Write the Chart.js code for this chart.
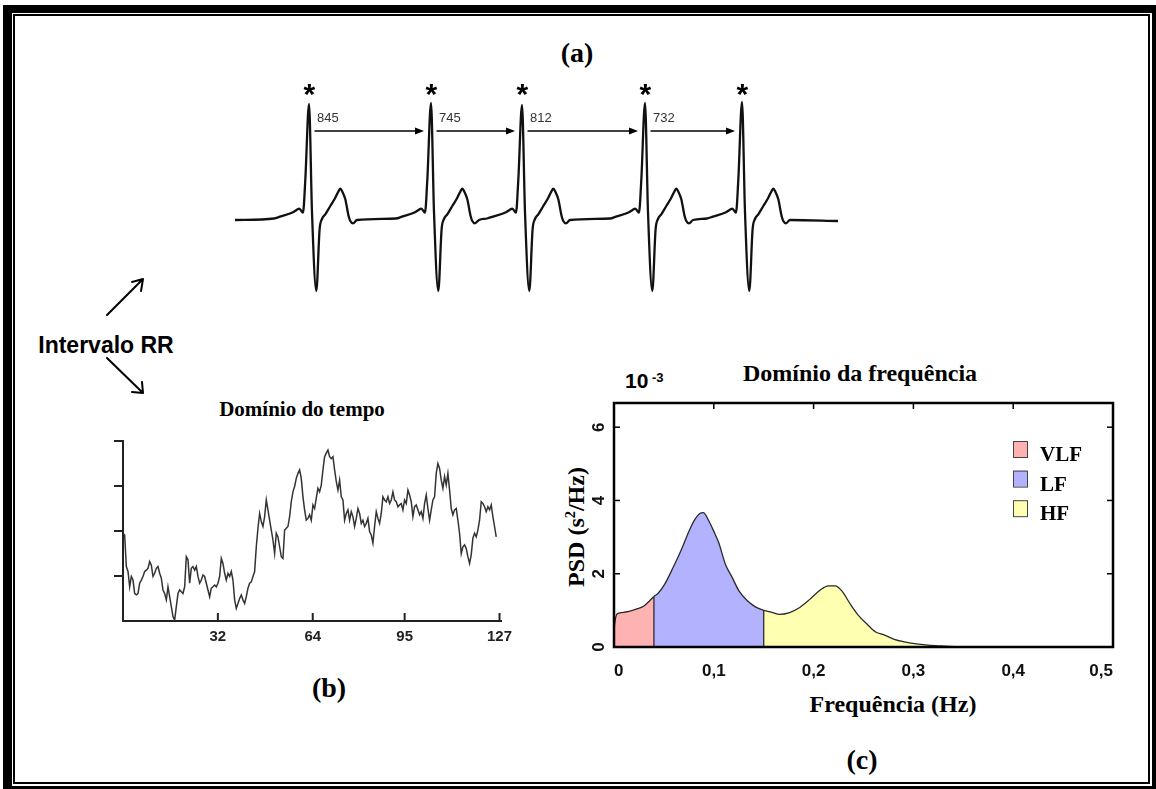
<!DOCTYPE html>
<html lang="pt">
<head>
<meta charset="UTF-8">
<title>Intervalo RR</title>
<script src="https://cdn.jsdelivr.net/npm/chart.js"></script>
<style>
  body{margin:0;width:1156px;height:789px;position:relative;overflow:hidden;background:#fff;}
  #outer{position:absolute;left:3px;top:5px;width:1153px;height:784px;box-sizing:border-box;border-style:solid;border-color:#000;border-width:8px 4px 3px 9px;}
  #inner{position:absolute;left:13px;top:14px;width:1137px;height:770px;box-sizing:border-box;border:2px solid #000;}
  .t{position:absolute;white-space:nowrap;transform:translate(-50%,-50%);color:#000;line-height:1;}
  .abs{position:absolute;white-space:nowrap;color:#000;line-height:1;}
  .serif{font-family:"Liberation Serif","Times New Roman",serif;font-weight:bold;}
  .sans{font-family:"Liberation Sans",Arial,sans-serif;font-weight:bold;}
  canvas{position:absolute;}
</style>
</head>
<body>
<div id="outer"></div>
<div id="inner"></div>

<div class="t serif" style="left:577px;top:53px;font-size:28px">(a)</div>
<div class="t serif" style="left:329px;top:688px;font-size:28px">(b)</div>
<div class="t serif" style="left:862px;top:760px;font-size:28px">(c)</div>
<div class="t sans" style="left:106px;top:345px;font-size:23px">Intervalo RR</div>
<div class="t serif" style="left:302px;top:409px;font-size:21px">Domínio do tempo</div>
<div class="t serif" style="left:860px;top:373px;font-size:24px">Domínio da frequência</div>
<div class="abs sans" style="left:625px;top:370px;font-size:21px">10</div>
<div class="abs sans" style="left:652px;top:371px;font-size:13px">-3</div>
<div class="t serif" style="left:575px;top:527px;font-size:24px;transform:translate(-50%,-50%) rotate(-90deg)">PSD (s<sup style="font-size:0.6em">2</sup>/Hz)</div>
<div class="t serif" style="left:893px;top:704px;font-size:24px">Frequência (Hz)</div>

<svg width="1156" height="789" style="position:absolute;left:0;top:0">
  <g stroke="#000" stroke-width="2" fill="none" stroke-linecap="round" stroke-linejoin="round">
    <path d="M107 315 L143 279 M132 282 L143 279 L141 291"/>
    <path d="M107 358 L143 393 M132 392 L143 393 L142 382"/>
  </g>
</svg>

<canvas id="ecg" width="620" height="240" style="left:230px;top:75px"></canvas>
<canvas id="rr" width="480" height="250" style="left:60px;top:420px"></canvas>
<canvas id="psd" width="570" height="300" style="left:560px;top:395px"></canvas>

<script>
// ---- (a) ECG: one beat shape, placed at each R peak ----
const ecgRPeaks = [79, 201, 292, 415, 512];
const ecgRAmp = [116, 117, 115, 117, 118];
const ecgBeatDt  = [-35, -29, -16, -12.5, -9.7, -6, -3.7, 0, 3, 7.3, 10.6, 13, 16.3, 21.3, 26.3, 29.6, 31.3, 33.5, 36.3, 39.6, 41.3, 44, 48];
const ecgBeatAmp = [1.5, 3.4, 7.7, 10, 11.4, 7.4, 40, 116, 7.7, -71, -9.3, 1, 5.7, 14, 22.3, 28.9, 31.4, 28, 20.7, 4, -1, -3.3, 0];
const ecgStart = 5, ecgEnd = 608;
const rrLabels = ['845', '745', '812', '732'];

// ---- (b) RR series ----
const rrValues = [
  1.95, 1.91, 1.21, 1.10, 0.76, 0.99, 0.91, 0.61, 0.58, 0.61,
  0.84, 0.91, 0.99, 1.10, 1.13, 1.17, 1.32, 1.24, 0.99, 1.06,
  1.17, 1.21, 1.06, 0.95, 0.69, 0.61, 0.47, 0.76, 0.54, 0.32,
  0.10, 0.02, 0.32, 0.61, 0.69, 0.65, 0.61, 0.76, 1.43, 1.36,
  0.84, 1.17, 1.21, 1.13, 1.21, 0.99, 0.84, 0.91, 1.02, 0.99,
  0.84, 0.69, 0.54, 0.73, 0.76, 0.80, 0.76, 0.84, 0.99, 1.39,
  1.28, 1.06, 0.91, 1.06, 0.99, 1.10, 0.91, 0.47, 0.28, 0.39,
  0.50, 0.58, 0.47, 0.39, 0.54, 0.73, 0.84, 0.87, 0.99, 1.10,
  1.65, 2.06, 2.39, 2.21, 2.10, 2.32, 2.69, 2.47, 2.24, 2.02,
  1.80, 1.50, 1.95, 1.87, 1.65, 1.43, 1.39, 2.02, 2.06, 2.10,
  2.32, 2.65, 2.87, 2.99, 3.17, 3.28, 3.36, 3.17, 2.76, 2.47,
  2.24, 2.28, 2.36, 2.24, 2.58, 2.50, 2.73, 2.95, 2.87, 3.02,
  3.36, 3.65, 3.73, 3.80, 3.65, 3.61, 3.65, 3.36, 3.10, 2.91,
  3.13, 2.76, 2.69, 2.24, 2.39, 2.47, 2.24, 2.43, 2.32, 2.10,
  2.28, 2.50, 2.39, 2.17, 2.24, 2.10, 2.17, 2.28, 1.99, 1.91,
  1.73, 2.10, 2.43, 2.28, 2.17, 2.39, 2.76, 2.69, 2.65, 2.76,
  2.61, 2.69, 2.87, 2.69, 2.65, 2.54, 2.58, 2.61, 2.47, 2.69,
  2.61, 2.91, 2.80, 2.65, 2.32, 2.54, 2.58, 2.47, 2.36, 2.43,
  2.28, 2.61, 2.80, 2.50, 2.24, 2.47, 2.69, 2.76, 3.28, 3.50,
  3.39, 3.13, 2.95, 3.21, 3.02, 3.28, 2.91, 2.50, 2.36, 2.47,
  2.50, 2.24, 1.95, 1.50, 1.65, 1.69, 1.61, 1.43, 1.28, 1.47,
  1.84, 1.95, 1.87, 2.02, 2.24, 2.65, 2.61, 2.54, 2.43, 2.54,
  2.47, 2.58, 2.32, 2.10, 1.87
];
const rrStep = 0.562;
const rrXTicks = [32, 64, 95, 127];
const rrYTicks = [1, 2, 3, 4];

// ---- (c) PSD ----
const psdFreq = [0, 0.001, 0.003, 0.008, 0.015, 0.023, 0.030, 0.036, 0.040,
  0.044, 0.0507, 0.0592, 0.0677, 0.0761, 0.0812, 0.0863, 0.0896, 0.0947, 0.0998,
  0.1049, 0.1116, 0.1184, 0.1252, 0.1336, 0.1421, 0.150,
  0.159, 0.1658, 0.1759, 0.1861, 0.1962, 0.2064, 0.2148, 0.2216, 0.2283, 0.2368,
  0.2453, 0.2537, 0.2622, 0.2706, 0.2808, 0.2909, 0.3011, 0.3146, 0.3281, 0.3484,
  0.40, 0.50];
const psdPower = [0.45, 0.70, 0.90, 0.94, 0.97, 1.04, 1.12, 1.27, 1.38,
  1.46, 1.71, 2.17, 2.67, 3.22, 3.49, 3.65, 3.67, 3.46, 3.17,
  2.85, 2.26, 1.90, 1.53, 1.26, 1.09, 1.00,
  0.94, 0.89, 0.94, 1.08, 1.30, 1.55, 1.67, 1.67, 1.53, 1.17,
  0.85, 0.62, 0.41, 0.33, 0.21, 0.14, 0.09, 0.05, 0.03, 0.01,
  0.005, 0];
const bandNames = ['VLF', 'LF', 'HF'];
const bandEdges = [0, 0.04, 0.15, 0.5];
const bandColors = ['#ffb2b2', '#b2b2ff', '#ffffb2'];
const psdXTicks = [0, 0.1, 0.2, 0.3, 0.4, 0.5];
const psdYTicks = [0, 2, 4, 6];

const SANS = '"Liberation Sans", Arial, sans-serif';
const SERIF = '"Liberation Serif", "Times New Roman", serif';

function glyphCentered(ctx, s, cx, cy) {
  ctx.textAlign = 'left';
  ctx.textBaseline = 'alphabetic';
  const m = ctx.measureText(s);
  const x = cx - (m.actualBoundingBoxRight - m.actualBoundingBoxLeft) / 2;
  const y = cy + (m.actualBoundingBoxAscent - m.actualBoundingBoxDescent) / 2;
  ctx.fillText(s, x, y);
}

const base = {
  responsive: false,
  animation: false,
  events: [],
  plugins: { legend: { display: false }, tooltip: { enabled: false } }
};

// (a)
const ecgPoints = [{ x: ecgStart, y: 0 }];
ecgRPeaks.forEach((r, k) => {
  ecgBeatDt.forEach((dt, j) => {
    ecgPoints.push({ x: r + dt, y: dt === 0 ? ecgRAmp[k] : ecgBeatAmp[j] });
  });
});
ecgPoints.push({ x: ecgEnd, y: -1 });

const ecgMarks = {
  id: 'ecgMarks',
  afterDatasetsDraw(chart) {
    const { ctx, scales: { x, y } } = chart;
    ctx.save();
    ctx.fillStyle = '#000';
    ctx.strokeStyle = '#000';
    ecgRPeaks.forEach((r, k) => {
      ctx.font = 'bold 30px ' + SANS;
      glyphCentered(ctx, '*', x.getPixelForValue(r + 0.5), y.getPixelForValue(130));
      if (k < rrLabels.length) {
        const yy = y.getPixelForValue(89);
        const x0 = x.getPixelForValue(r + 5.5);
        const x1 = x.getPixelForValue(ecgRPeaks[k + 1] - 7);
        ctx.lineWidth = 1.7;
        ctx.beginPath();
        ctx.moveTo(x0, yy);
        ctx.lineTo(x1 - 7, yy);
        ctx.stroke();
        ctx.beginPath();
        ctx.moveTo(x1, yy);
        ctx.lineTo(x1 - 9, yy - 3.4);
        ctx.lineTo(x1 - 9, yy + 3.4);
        ctx.closePath();
        ctx.fill();
        ctx.save();
        ctx.fillStyle = '#333';
        ctx.font = '13px ' + SANS;
        ctx.textAlign = 'left';
        ctx.textBaseline = 'middle';
        ctx.fillText(rrLabels[k], x.getPixelForValue(r + 8), y.getPixelForValue(102));
        ctx.restore();
      }
    });
    ctx.restore();
  }
};

new Chart(document.getElementById('ecg'), {
  type: 'line',
  data: { datasets: [{ data: ecgPoints, borderColor: '#111', borderWidth: 2.3, pointRadius: 0,
    cubicInterpolationMode: 'monotone', fill: false }] },
  options: Object.assign({}, base, {
    layout: { padding: 0 },
    scales: {
      x: { type: 'linear', display: false, min: 0, max: 620 },
      y: { display: false, min: -95, max: 145 }
    }
  }),
  plugins: [ecgMarks]
});

// (b)
const rrInnerTicks = {
  id: 'rrInnerTicks',
  afterDraw(chart) {
    const { ctx, chartArea, scales: { x } } = chart;
    ctx.save();
    ctx.strokeStyle = '#222';
    ctx.lineWidth = 2;
    rrXTicks.forEach(v => {
      const px = x.getPixelForValue(v);
      ctx.beginPath();
      ctx.moveTo(px, chartArea.bottom);
      ctx.lineTo(px, chartArea.bottom - 8);
      ctx.stroke();
    });
    ctx.restore();
  }
};

new Chart(document.getElementById('rr'), {
  type: 'line',
  data: { datasets: [{ data: rrValues.map((v, i) => ({ x: i * rrStep, y: v })),
    borderColor: '#333', borderWidth: 1.5, pointRadius: 0, tension: 0, fill: false }] },
  options: Object.assign({}, base, {
    layout: { padding: { top: 21, right: 39, left: 0, bottom: 0 } },
    scales: {
      x: {
        type: 'linear', min: 0, max: 127.5,
        afterBuildTicks: s => { s.ticks = rrXTicks.map(v => ({ value: v })); },
        afterFit: s => { s.height = 49; },
        grid: { display: true, drawOnChartArea: false, drawTicks: false, color: '#222', lineWidth: 2 },
        border: { display: true, color: '#222', width: 2 },
        ticks: { font: { family: SANS, weight: 'bold', size: 15 }, color: '#222', padding: 7,
          maxRotation: 0, autoSkip: false }
      },
      y: {
        min: 0, max: 4,
        afterBuildTicks: s => { s.ticks = rrYTicks.map(v => ({ value: v })); },
        afterFit: s => { s.width = 63; },
        grid: { drawOnChartArea: false, drawTicks: true, tickLength: 9, color: '#222', lineWidth: 2 },
        border: { display: true, color: '#222', width: 2 },
        ticks: { display: false }
      }
    }
  }),
  plugins: [rrInnerTicks]
});

// (c)
const psdPoints = psdFreq.map((f, i) => ({ x: f, y: psdPower[i] }));
const bandSets = bandNames.map((name, i) => ({
  label: name,
  data: psdPoints.filter(p => p.x >= bandEdges[i] && p.x <= bandEdges[i + 1]),
  backgroundColor: bandColors[i],
  borderColor: '#2a2a2a',
  borderWidth: 1.3,
  pointRadius: 0,
  cubicInterpolationMode: 'monotone',
  fill: 'origin'
}));

const psdFrame = {
  id: 'psdFrame',
  afterDatasetsDraw(chart) {
    const { ctx, chartArea: a, scales: { x, y } } = chart;
    ctx.save();
    // band boundaries
    ctx.strokeStyle = '#2a2a2a';
    ctx.lineWidth = 1.3;
    bandEdges.slice(1, -1).forEach(e => {
      const v = psdPower[psdFreq.indexOf(e)];
      const px = x.getPixelForValue(e);
      ctx.beginPath();
      ctx.moveTo(px, y.getPixelForValue(0));
      ctx.lineTo(px, y.getPixelForValue(v));
      ctx.stroke();
    });
    // inner ticks
    ctx.strokeStyle = '#000';
    ctx.lineWidth = 1.5;
    psdXTicks.slice(1, -1).forEach(v => {
      const px = x.getPixelForValue(v);
      ctx.beginPath(); ctx.moveTo(px, a.top); ctx.lineTo(px, a.top + 6); ctx.stroke();
    });
    psdYTicks.slice(1).forEach(v => {
      const py = y.getPixelForValue(v);
      ctx.beginPath(); ctx.moveTo(a.left, py); ctx.lineTo(a.left + 6, py); ctx.stroke();
      ctx.beginPath(); ctx.moveTo(a.right, py); ctx.lineTo(a.right - 6, py); ctx.stroke();
    });
    // box
    ctx.lineWidth = 2.5;
    ctx.strokeRect(a.left, a.top, a.right - a.left, a.bottom - a.top);
    // rotated y labels
    ctx.fillStyle = '#111';
    ctx.font = 'bold 17px ' + SANS;
    ctx.textAlign = 'center';
    ctx.textBaseline = 'middle';
    psdYTicks.forEach(v => {
      ctx.save();
      ctx.translate(a.left - 15.5, y.getPixelForValue(v));
      ctx.rotate(-Math.PI / 2);
      ctx.fillText(String(v), 0, 1);
      ctx.restore();
    });
    // legend
    bandNames.forEach((name, i) => {
      const bx = a.right - 100, by = a.top + 38 + i * 29.6;
      ctx.fillStyle = bandColors[i];
      ctx.fillRect(bx, by, 14, 16);
      ctx.strokeStyle = '#444';
      ctx.lineWidth = 1;
      ctx.strokeRect(bx + 0.5, by + 0.5, 14, 16);
      ctx.fillStyle = '#000';
      ctx.font = 'bold 21px ' + SERIF;
      ctx.textAlign = 'left';
      ctx.textBaseline = 'alphabetic';
      ctx.fillText(name, a.right - 73, by + 20);
    });
    ctx.restore();
  }
};

new Chart(document.getElementById('psd'), {
  type: 'line',
  data: { datasets: bandSets },
  options: Object.assign({}, base, {
    layout: { padding: { top: 8, right: 17, left: 0, bottom: 0 } },
    scales: {
      x: {
        type: 'linear', min: 0, max: 0.5,
        afterBuildTicks: s => { s.ticks = psdXTicks.map(v => ({ value: v })); },
        afterFit: s => { s.height = 48; },
        grid: { display: false, drawTicks: false },
        border: { display: false },
        ticks: { font: { family: SANS, weight: 'bold', size: 17 }, color: '#111', padding: 14,
          align: 'inner', maxRotation: 0, autoSkip: false,
          callback: v => v === 0 ? '0' : v.toFixed(1).replace('.', ',') }
      },
      y: {
        min: 0, max: 6.66,
        afterFit: s => { s.width = 54; },
        grid: { display: false, drawTicks: false },
        border: { display: false },
        ticks: { display: false }
      }
    }
  }),
  plugins: [psdFrame]
});
</script>
</body>
</html>
